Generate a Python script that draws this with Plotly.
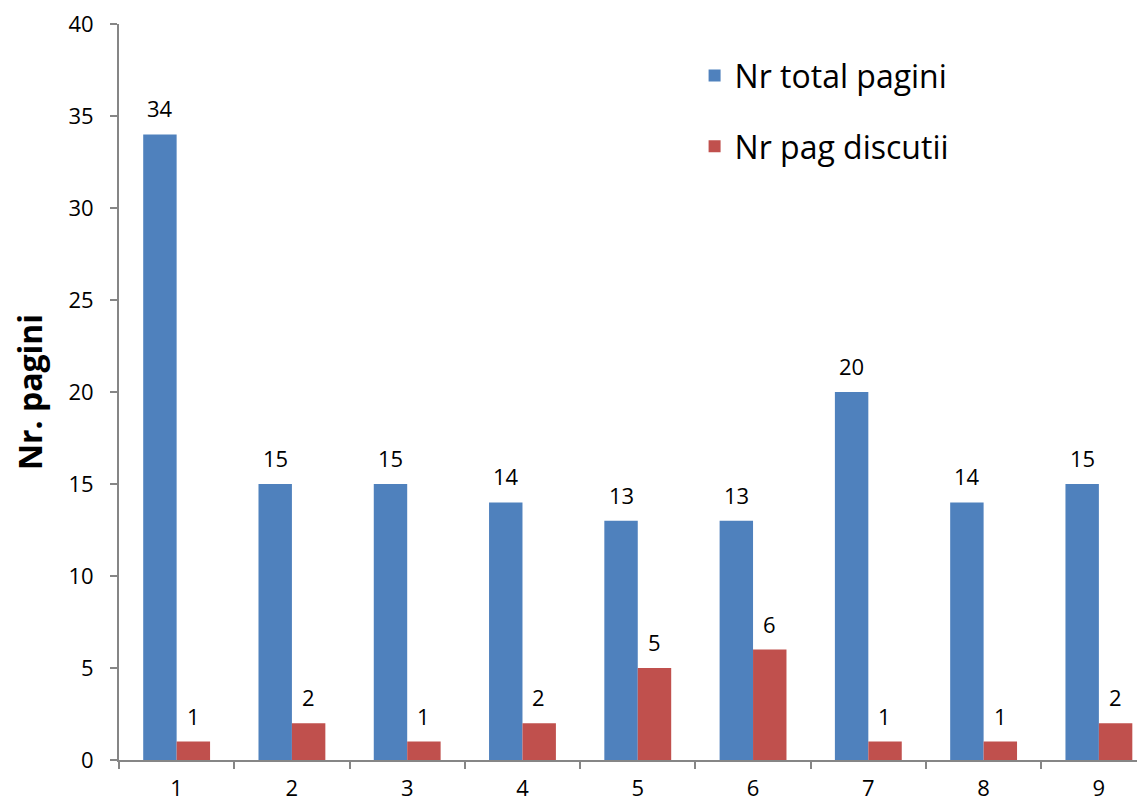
import plotly.graph_objects as go

categories = ["1", "2", "3", "4", "5", "6", "7", "8", "9"]
total_pages = [34, 15, 15, 14, 13, 13, 20, 14, 15]
discussion_pages = [1, 2, 1, 2, 5, 6, 1, 1, 2]
y_ticks = [0, 5, 10, 15, 20, 25, 30, 35, 40]

FONT = "Open Sans, Liberation Sans, sans-serif"
BLUE = "#4F81BD"
RED = "#C0504D"
AXIS = "#868686"

fig = go.Figure()
fig.add_trace(go.Bar(x=categories, y=total_pages, name="Nr total pagini",
                     marker=dict(color=BLUE, line=dict(width=0)), legendgroup="a"))
fig.add_trace(go.Bar(x=categories, y=discussion_pages, name="Nr pag discutii",
                     marker=dict(color=RED, line=dict(width=0)), legendgroup="b"))

annotations = []
for i, v in enumerate(total_pages):
    annotations.append(dict(x=i, y=v, text=str(v), showarrow=False, xref="x", yref="y",
                            xshift=-16.5, yshift=9, yanchor="bottom",
                            font=dict(size=22, color="black", family=FONT)))
for i, v in enumerate(discussion_pages):
    annotations.append(dict(x=i, y=v, text=str(v), showarrow=False, xref="x", yref="y",
                            xshift=16.5, yshift=9, yanchor="bottom",
                            font=dict(size=22, color="black", family=FONT)))

fig.update_layout(
    width=1137, height=797,
    margin=dict(l=111, r=0, t=16, b=45, autoexpand=False),
    paper_bgcolor="white", plot_bgcolor="white",
    barmode="group", bargap=0.42, bargroupgap=0,
    font=dict(family=FONT, color="black", size=22),
    annotations=annotations,
    legend=dict(x=0.561, y=0.967, xanchor="left", yanchor="top",
                font=dict(size=32, family=FONT), tracegroupgap=26,
                bgcolor="rgba(0,0,0,0)"),
    xaxis=dict(type="category", range=[-0.5, 8.4], showline=True, linecolor=AXIS,
               linewidth=2, ticks="outside", tickson="boundaries", ticklen=7,
               tickcolor=AXIS, tickwidth=2, showgrid=False, automargin=False,
               ticklabelstandoff=8, ticklabeloverflow="allow",
               tickfont=dict(size=22, family=FONT)),
    yaxis=dict(range=[0, 40], tickvals=y_ticks, showline=True, linecolor=AXIS,
               linewidth=2, ticks="outside", ticklen=7, tickcolor=AXIS, tickwidth=2,
               showgrid=False, zeroline=False, automargin=False,
               ticklabelstandoff=12, ticklabeloverflow="allow",
               tickfont=dict(size=22, family=FONT),
               title=dict(text="<b>Nr. pagini</b>", font=dict(size=32, family=FONT),
                          standoff=18)),
)

fig.write_html("out.html")
